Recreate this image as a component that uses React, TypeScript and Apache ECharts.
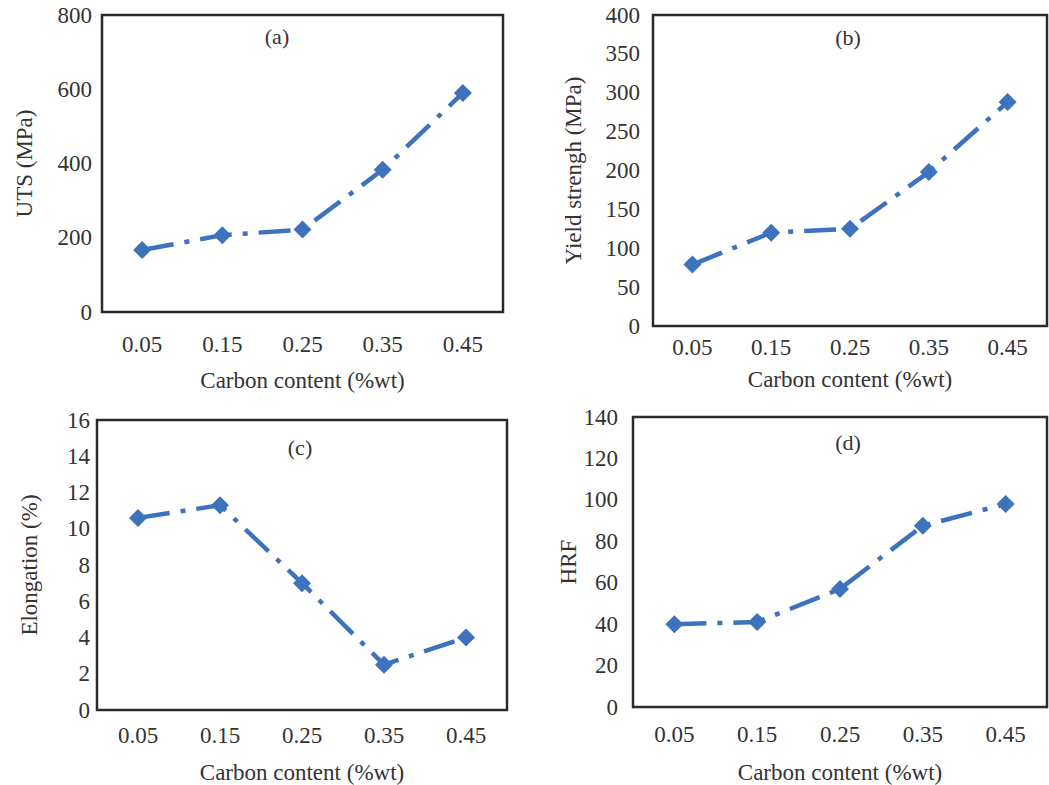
import React, { useEffect, useRef } from "react";
import * as echarts from "echarts";

const categories = ["0.05", "0.15", "0.25", "0.35", "0.45"];
const utsValues = [167, 207, 222, 383, 590];
const yieldValues = [79, 120, 125, 198, 288];
const elongationValues = [10.6, 11.3, 7.0, 2.5, 4.0];
const hrfValues = [40, 41, 57, 87.5, 98];

const panelLabels = ["(a)", "(b)", "(c)", "(d)"];
const yNames = ["UTS (MPa)", "Yield strengh (MPa)", "Elongation (%)", "HRF"];
const xName = "Carbon content (%wt)";
const yMax = [800, 400, 16, 140];
const yInterval = [200, 50, 2, 20];

const FONT = "'Liberation Serif', 'DejaVu Serif', serif";
const TEXT = "#333";
const BLUE = "#3d72bd";
const FS = 23;

const grids = [
  { left: 102, top: 15, width: 401, height: 297 },
  { left: 653, top: 15, width: 394, height: 311 },
  { left: 97, top: 420, width: 410, height: 291 },
  { left: 633, top: 417, width: 414, height: 292 },
];
const yLabelMargin = [10, 13, 7, 15];
const yNameGap = [66, 68, 56, 50];
const xLabelMargin = [21, 10, 14, 16];
const xNameGap = [57, 42, 51, 54];
const labelPos = [
  [277, 36],
  [848, 37],
  [300, 447],
  [848, 442],
];

export default function App() {
  const ref = useRef<HTMLDivElement>(null);
  useEffect(() => {
    if (!ref.current) return;
    const chart = echarts.init(ref.current, undefined, { renderer: "svg" });
    const allData = [utsValues, yieldValues, elongationValues, hrfValues];
    chart.setOption({
      animation: false,
      backgroundColor: "#ffffff",
      grid: grids.map((g) => ({
        ...g,
        show: true,
        borderColor: "#2a2a2a",
        borderWidth: 2.5,
        backgroundColor: "transparent",
        containLabel: false,
      })),
      xAxis: grids.map((_, i) => ({
        type: "category",
        gridIndex: i,
        data: categories,
        boundaryGap: true,
        axisLine: { show: false },
        axisTick: { show: false },
        splitLine: { show: false },
        axisLabel: { color: TEXT, fontFamily: FONT, fontSize: FS, margin: xLabelMargin[i] },
        name: xName,
        nameLocation: "middle",
        nameGap: xNameGap[i],
        nameTextStyle: { color: TEXT, fontFamily: FONT, fontSize: FS },
      })),
      yAxis: grids.map((_, i) => ({
        type: "value",
        gridIndex: i,
        min: 0,
        max: yMax[i],
        interval: yInterval[i],
        axisLine: { show: false },
        axisTick: { show: false },
        splitLine: { show: false },
        axisLabel: { color: TEXT, fontFamily: FONT, fontSize: FS, margin: yLabelMargin[i] },
        name: yNames[i],
        nameLocation: "middle",
        nameGap: yNameGap[i],
        nameRotate: 90,
        nameTextStyle: { color: TEXT, fontFamily: FONT, fontSize: FS },
      })),
      series: allData.map((d, i) => ({
        type: "line",
        xAxisIndex: i,
        yAxisIndex: i,
        data: d,
        symbol: "diamond",
        symbolSize: 18,
        itemStyle: { color: BLUE },
        lineStyle: { color: BLUE, width: 4.5, type: [32, 11, 5, 11] },
      })),
      graphic: panelLabels.map((t, i) => ({
        type: "text",
        x: labelPos[i][0],
        y: labelPos[i][1],
        style: {
          text: t,
          fill: TEXT,
          font: `22px ${FONT}`,
          textAlign: "center",
          textVerticalAlign: "middle",
        },
      })),
    });
    return () => chart.dispose();
  }, []);
  return (
    <div
      ref={ref}
      style={{ position: "fixed", left: 0, top: 0, width: 1049, height: 785 }}
    />
  );
}
